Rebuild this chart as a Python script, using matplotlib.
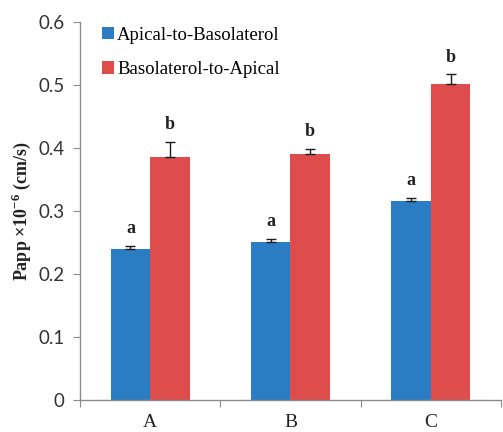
import matplotlib
matplotlib.use("Agg")
import matplotlib.pyplot as plt
from matplotlib.patches import Patch
import numpy as np

plt.rcParams["mathtext.fontset"] = "custom"
plt.rcParams["mathtext.rm"] = "Liberation Serif:bold"
plt.rcParams["mathtext.bf"] = "Liberation Serif:bold"

categories = ["A", "B", "C"]
series_names = ["Apical-to-Basolaterol", "Basolaterol-to-Apical"]
ap_to_bl = [0.240, 0.251, 0.316]
ap_to_bl_err = [0.004, 0.005, 0.005]
bl_to_ap = [0.385, 0.390, 0.502]
bl_to_ap_err = [0.025, 0.009, 0.015]
ap_letters = ["a", "a", "a"]
bl_letters = ["b", "b", "b"]
y_ticks = [0, 0.1, 0.2, 0.3, 0.4, 0.5, 0.6]

blue = "#2A7DC2"
red = "#DE4C4C"
axis_grey = "#8C8C8C"

fig = plt.figure(figsize=(5.03, 4.32), dpi=100)
ax = fig.add_axes([0.159, 0.074, 0.837, 0.875])

x = np.arange(len(categories))
w = 0.281
ax.bar(x - w / 2, ap_to_bl, width=w, color=blue, zorder=2)
ax.bar(x + w / 2, bl_to_ap, width=w, color=red, zorder=2)
ax.errorbar(x - w / 2, ap_to_bl, yerr=[np.zeros(3), ap_to_bl_err], fmt="none",
            ecolor="#1a1a1a", elinewidth=1.0, capsize=3.5, capthick=1.0, zorder=3)
ax.errorbar(x + w / 2, bl_to_ap, yerr=[np.zeros(3), bl_to_ap_err], fmt="none",
            ecolor="#1a1a1a", elinewidth=1.0, capsize=3.5, capthick=1.0, zorder=3)

letter_font = dict(family="Liberation Serif", weight="bold", size=13, color="#222222")
for i in range(len(categories)):
    ax.text(x[i] - w / 2, ap_to_bl[i] + ap_to_bl_err[i] + 0.014, ap_letters[i],
            ha="center", va="bottom", **letter_font)
    ax.text(x[i] + w / 2, bl_to_ap[i] + bl_to_ap_err[i] + 0.014, bl_letters[i],
            ha="center", va="bottom", **letter_font)

ax.set_xlim(-0.5, len(categories) - 0.5)
ax.set_ylim(0, 0.6)
ax.set_yticks(y_ticks)
ax.set_yticklabels(["0" if t == 0 else f"{t:.1f}" for t in y_ticks],
                   family="Lato", fontsize=13.5, color="#333333")
ax.set_xticks(np.arange(len(categories) + 1) - 0.5)
ax.set_xticklabels([])
ax.set_xticks(x, minor=True)
ax.set_xticklabels(categories, minor=True, family="Liberation Serif",
                   fontsize=14, color="#222222")
ax.tick_params(axis="x", which="minor", length=0, pad=10)
ax.tick_params(axis="x", which="major", length=5, color=axis_grey, direction="out")
ax.tick_params(axis="y", length=5, color=axis_grey, direction="out", pad=6)

for s in ["top", "right"]:
    ax.spines[s].set_visible(False)
for s in ["left", "bottom"]:
    ax.spines[s].set_color(axis_grey)
    ax.spines[s].set_linewidth(1.0)

ax.set_ylabel(r"Papp $\times$10$^{-6}$ (cm/s)", family="Liberation Serif",
              weight="bold", fontsize=13, color="#222222", labelpad=4)

handles = [Patch(facecolor=blue, edgecolor="none"), Patch(facecolor=red, edgecolor="none")]
ax.legend(handles, series_names, loc="upper left", bbox_to_anchor=(0.035, 1.008),
          frameon=False, prop={"family": "Liberation Serif", "size": 13.5},
          handlelength=0.65, handleheight=0.65, handletextpad=0.15, labelspacing=0.95,
          borderaxespad=0.0)

fig.savefig("out.png", dpi=100, facecolor="white")
